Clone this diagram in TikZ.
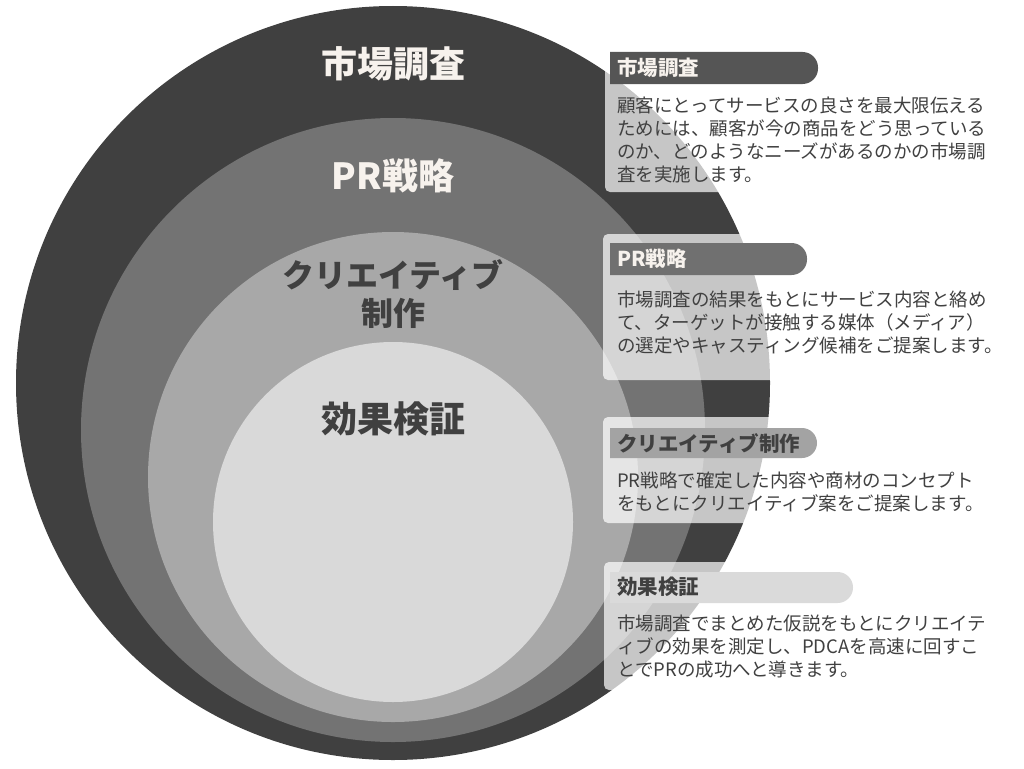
\documentclass[tikz,border=0pt]{standalone}
\usepackage{fontspec}
\setmainfont{Noto Sans CJK JP}
\usepackage{xcolor}
\usetikzlibrary{positioning}
\definecolor{ringA}{HTML}{404040}
\definecolor{ringB}{HTML}{737373}
\definecolor{ringC}{HTML}{A8A8A8}
\definecolor{ringD}{HTML}{D9D9D9}
\definecolor{cream}{HTML}{F7F2ED}
\definecolor{barA}{HTML}{555555}
\definecolor{barB}{HTML}{707070}
\definecolor{barC}{HTML}{A3A3A3}
\definecolor{barD}{HTML}{DADADA}
\definecolor{ink}{HTML}{404040}

\begin{document}
\begin{tikzpicture}[x=1pt, y=-1pt,
    biglabel/.style={font=\fontsize{36}{38}\selectfont\bfseries, inner sep=0pt},
    panelbox/.style={fill=white, fill opacity=0.7, rounded corners=5pt},
    bartitle/.style={anchor=west, inner sep=0pt, font=\fontsize{20.5}{22}\selectfont\bfseries},
    bodytext/.style={anchor=north west, inner sep=0pt, align=left, text=ink, font=\fontsize{18.5}{22.8}\selectfont}]
    \useasboundingbox (0,0) rectangle (1024,768);
    % nested rings
    \fill[ringA] (393,383) circle (377);
    \fill[ringB] (393,430) circle (312);
    \fill[ringC] (393,477) circle (245);
    \fill[ringD] (393,522) circle (180);
    \node[biglabel, text=cream] (ring1) at (393,64) {市場調査};
    \node[biglabel, text=cream] (ring2) at (393,176) {PR戦略};
    \node[biglabel, text=ink, align=center, font=\fontsize{32}{38}\selectfont\bfseries] (ring3) at (393,294) {クリエイティブ\\制作};
    \node[biglabel, text=ink] (ring4) at (393,419) {効果検証};
    % side panels
    \fill[panelbox] (605,43) rectangle (1010,192);
    \fill[panelbox] (603,234) rectangle (1010,380);
    \fill[panelbox] (603,417) rectangle (1010,523);
    \fill[panelbox] (604,562) rectangle (1010,690);
    \fill[barA] (610,52) [rounded corners=15.5] -- (818,52) -- (818,84) [sharp corners] -- (610,84) -- cycle;
    \fill[barB] (610,243) [rounded corners=15.5] -- (807,243) -- (807,275) [sharp corners] -- (610,275) -- cycle;
    \fill[barC] (610,428) [rounded corners=15] -- (817,428) -- (817,458) [sharp corners] -- (610,458) -- cycle;
    \fill[barD] (610,572) [rounded corners=15.5] -- (853,572) -- (853,603) [sharp corners] -- (610,603) -- cycle;
    \node[bartitle, text=cream] (title1) at (617,68) {市場調査};
    \node[bartitle, text=cream] (title2) at (617,259) {PR戦略};
    \node[bartitle, text=ink] (title3) at (617,443) {クリエイティブ制作};
    \node[bartitle, text=ink] (title4) at (617,587) {効果検証};
    \node[bodytext] (text1) at (617,97) {顧客にとってサービスの良さを最大限伝える\\ためには、顧客が今の商品をどう思っている\\のか、どのようなニーズがあるのかの市場調\\査を実施します。};
    \node[bodytext] (text2) at (617,291) {市場調査の結果をもとにサービス内容と絡め\\て、ターゲットが接触する媒体（メディア）\\の選定やキャスティング候補をご提案します。};
    \node[bodytext] (text3) at (617,472) {PR戦略で確定した内容や商材のコンセプト\\をもとにクリエイティブ案をご提案します。};
    \node[bodytext] (text4) at (617,615) {市場調査でまとめた仮説をもとにクリエイテ\\ィブの効果を測定し、PDCAを高速に回すこ\\とでPRの成功へと導きます。};
\end{tikzpicture}
\end{document}
